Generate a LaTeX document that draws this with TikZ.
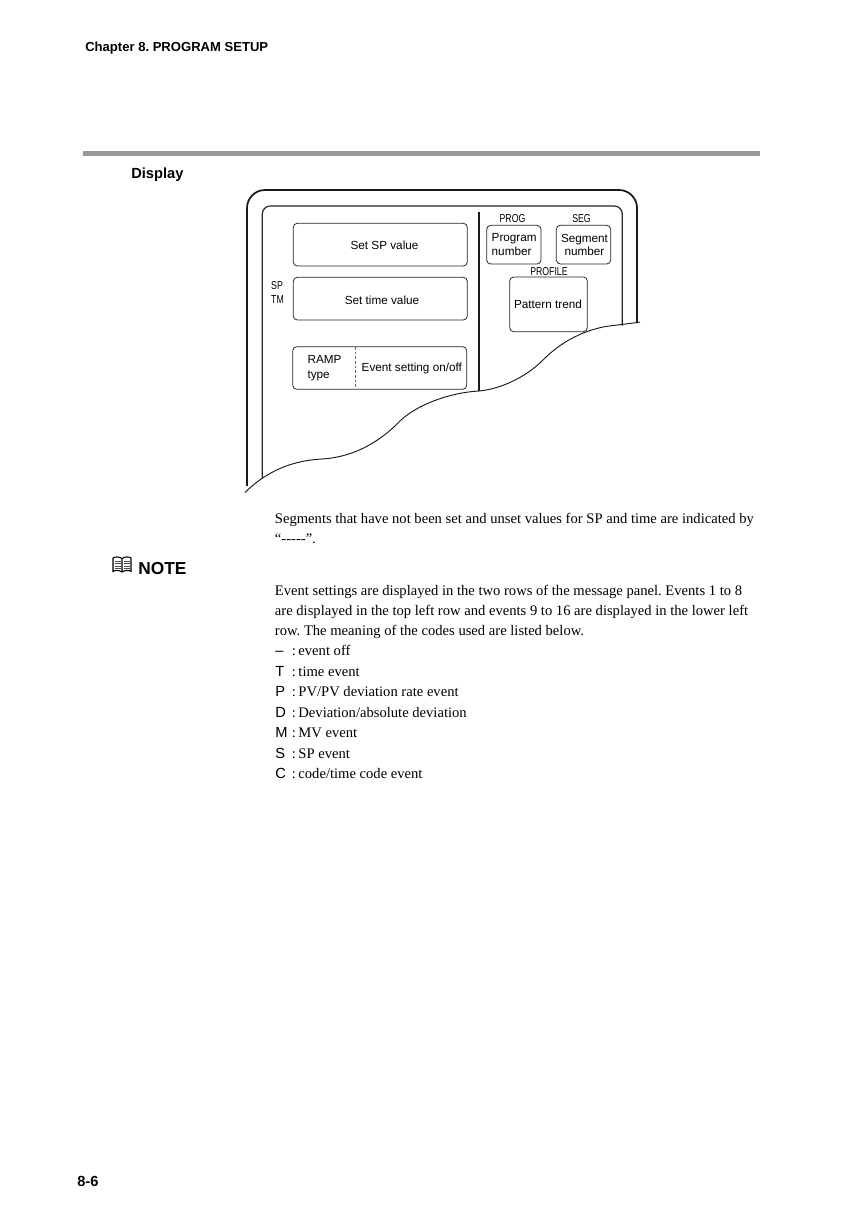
\documentclass[tikz,border=0pt]{standalone}
\usepackage{fontspec}
\setmainfont{Liberation Serif}
\newfontfamily\arialf{Liberation Sans}
\newcommand{\cs}{:\hspace{.18em}}
\tikzset{
  body/.style={anchor=base west,inner sep=0pt,font=\frenchspacing\fontsize{10.95pt}{13pt}\selectfont},
  code/.style={anchor=base west,inner sep=0pt,font=\arialf\fontsize{11pt}{13pt}\selectfont},
  head/.style={anchor=base west,inner sep=0pt,font=\frenchspacing\arialf\bfseries\fontsize{9.8pt}{12pt}\selectfont},
  panel/.style={anchor=center,inner sep=0pt,align=center,font=\frenchspacing\arialf\fontsize{8.8pt}{10.2pt}\selectfont},
  tiny/.style={anchor=center,inner sep=0pt,align=center,font=\arialf\fontsize{8.6pt}{10pt}\selectfont,xscale=.76,transform shape},
  keybox/.style={draw=black!85,line width=.6pt,rounded corners=3pt}
}
\begin{document}
\begin{tikzpicture}[x=.75pt,y=-.75pt]
\useasboundingbox (0,0) rectangle (867,1227);
\fill[white] (0,0) rectangle (867,1227);
\node[head] (chap) at (85,52) {Chapter 8. PROGRAM SETUP};
\fill[black!40] (83,151) rectangle (760,156.5);
\node[head,font=\arialf\bfseries\fontsize{11pt}{13pt}\selectfont] (disp) at (131,178) {Display};
% outer casing
\draw[line width=1.3pt,black!90] (247,486) -- (247,208) arc[start angle=180,end angle=270,radius=18] -- (619,190) arc[start angle=270,end angle=360,radius=18] -- (637,323);
\draw[line width=.9pt,black!85] (262.3,478) -- (262.3,214) arc[start angle=180,end angle=270,radius=8] -- (614.3,206) arc[start angle=270,end angle=360,radius=8] -- (622.3,325.5);
% torn edge
\draw[line width=.7pt,black!90] (245,492.5) .. controls (262,476) and (285,461) .. (322,459)
  .. controls (355,457) and (380,441) .. (398,423)
  .. controls (415,405) and (450,392.5) .. (479,391)
  .. controls (500,389) and (525,378) .. (543,360)
  .. controls (556,347) and (575,333) .. (603,327)
  .. controls (615,325) and (628,324) .. (640,322);
\draw[line width=1.2pt,black!90] (479,212) -- (479,391);
% boxes
\draw[keybox] (293.3,223.3) rectangle (467.3,266);
\node[panel] (sp) at (384.5,245) {Set SP value};
\draw[keybox] (293.3,277.3) rectangle (467.3,320);
\node[panel] (tm) at (382,300) {Set time value};
\draw[keybox] (292.7,346.7) rectangle (466.7,389.3);
\draw[dashed,line width=.7pt,black!60,dash pattern=on 2pt off 1.5pt] (355,347) -- (355,389);
\node[panel,align=left,font=\arialf\fontsize{8.8pt}{10.8pt}\selectfont] (ramp) at (324.5,368.3) {RAMP\\type};
\node[panel] (ev) at (411.8,368.5) {Event setting on/off};
\draw[keybox] (486.7,225.3) rectangle (541,264);
\node[panel,align=left] (pn) at (514.2,244.8) {Program\\number};
\draw[keybox] (556.3,225.3) rectangle (610.7,264);
\node[panel] (sn) at (584.5,244.8) {Segment\\number};
\draw[keybox] (509.7,277) rectangle (587.3,331.7);
\node[panel] (pt) at (548,304) {Pattern trend};
\node[tiny] (prog) at (512.5,218.5) {PROG};
\node[tiny] (seg) at (581.5,218.5) {SEG};
\node[tiny] (prof) at (549,271.5) {PROFILE};
\node[tiny,align=left] (sptm) at (277.5,292.5) {SP\\TM};
% body
\node[body] (b1) at (274.7,523) {Segments that have not been set and unset values for SP and time are indicated by};
\node[body] (b2) at (274.7,543.5) {“{-}{-}{-}{-}{-}”.};
% book icon
\draw[line width=.8pt,black] (122,558.5) .. controls (119,556.5) and (115,556.5) .. (113,558) -- (113,571.5) .. controls (115,570) and (119,570) .. (122,572) .. controls (125,570) and (129,570) .. (131,571.5) -- (131,558) .. controls (129,556.5) and (125,556.5) .. (122,558.5) -- (122,572);
\draw[line width=.3pt,black!70] (114.5,561) -- (120.5,561) (114.5,563.5) -- (120.5,563.5) (114.5,566) -- (120.5,566) (114.5,568.5) -- (120.5,568.5)
 (123.5,561) -- (129.5,561) (123.5,563.5) -- (129.5,563.5) (123.5,566) -- (129.5,566) (123.5,568.5) -- (129.5,568.5);
\node[head,font=\arialf\bfseries\fontsize{13pt}{15pt}\selectfont] (note) at (138,574) {NOTE};
\node[body] (e1) at (274.7,595) {Event settings are displayed in the two rows of the message panel. Events 1 to 8};
\node[body] (e2) at (274.7,615.3) {are displayed in the top left row and events 9 to 16 are displayed in the lower left};
\node[body] (e3) at (274.7,635.7) {row. The meaning of the codes used are listed below.};
\node[code] (c1) at (275,655.5) {–};
\node[body] (t1) at (291.5,655.5) {\cs event off};
\node[code] (c2) at (275,676) {T};
\node[body] (t2) at (291.5,676) {\cs time event};
\node[code] (c3) at (275,696.5) {P};
\node[body] (t3) at (291.5,696.5) {\cs PV/PV deviation rate event};
\node[code] (c4) at (275,717) {D};
\node[body] (t4) at (291.5,717) {\cs Deviation/absolute deviation};
\node[code] (c5) at (275,737.5) {M};
\node[body] (t5) at (291.5,737.5) {\cs MV event};
\node[code] (c6) at (275,758) {S};
\node[body] (t6) at (291.5,758) {\cs SP event};
\node[code] (c7) at (275,778) {C};
\node[body] (t7) at (291.5,778) {\cs code/time code event};
\node[head,font=\arialf\bfseries\fontsize{11pt}{13pt}\selectfont] (page) at (77,1186) {8-6};
\end{tikzpicture}
\end{document}
